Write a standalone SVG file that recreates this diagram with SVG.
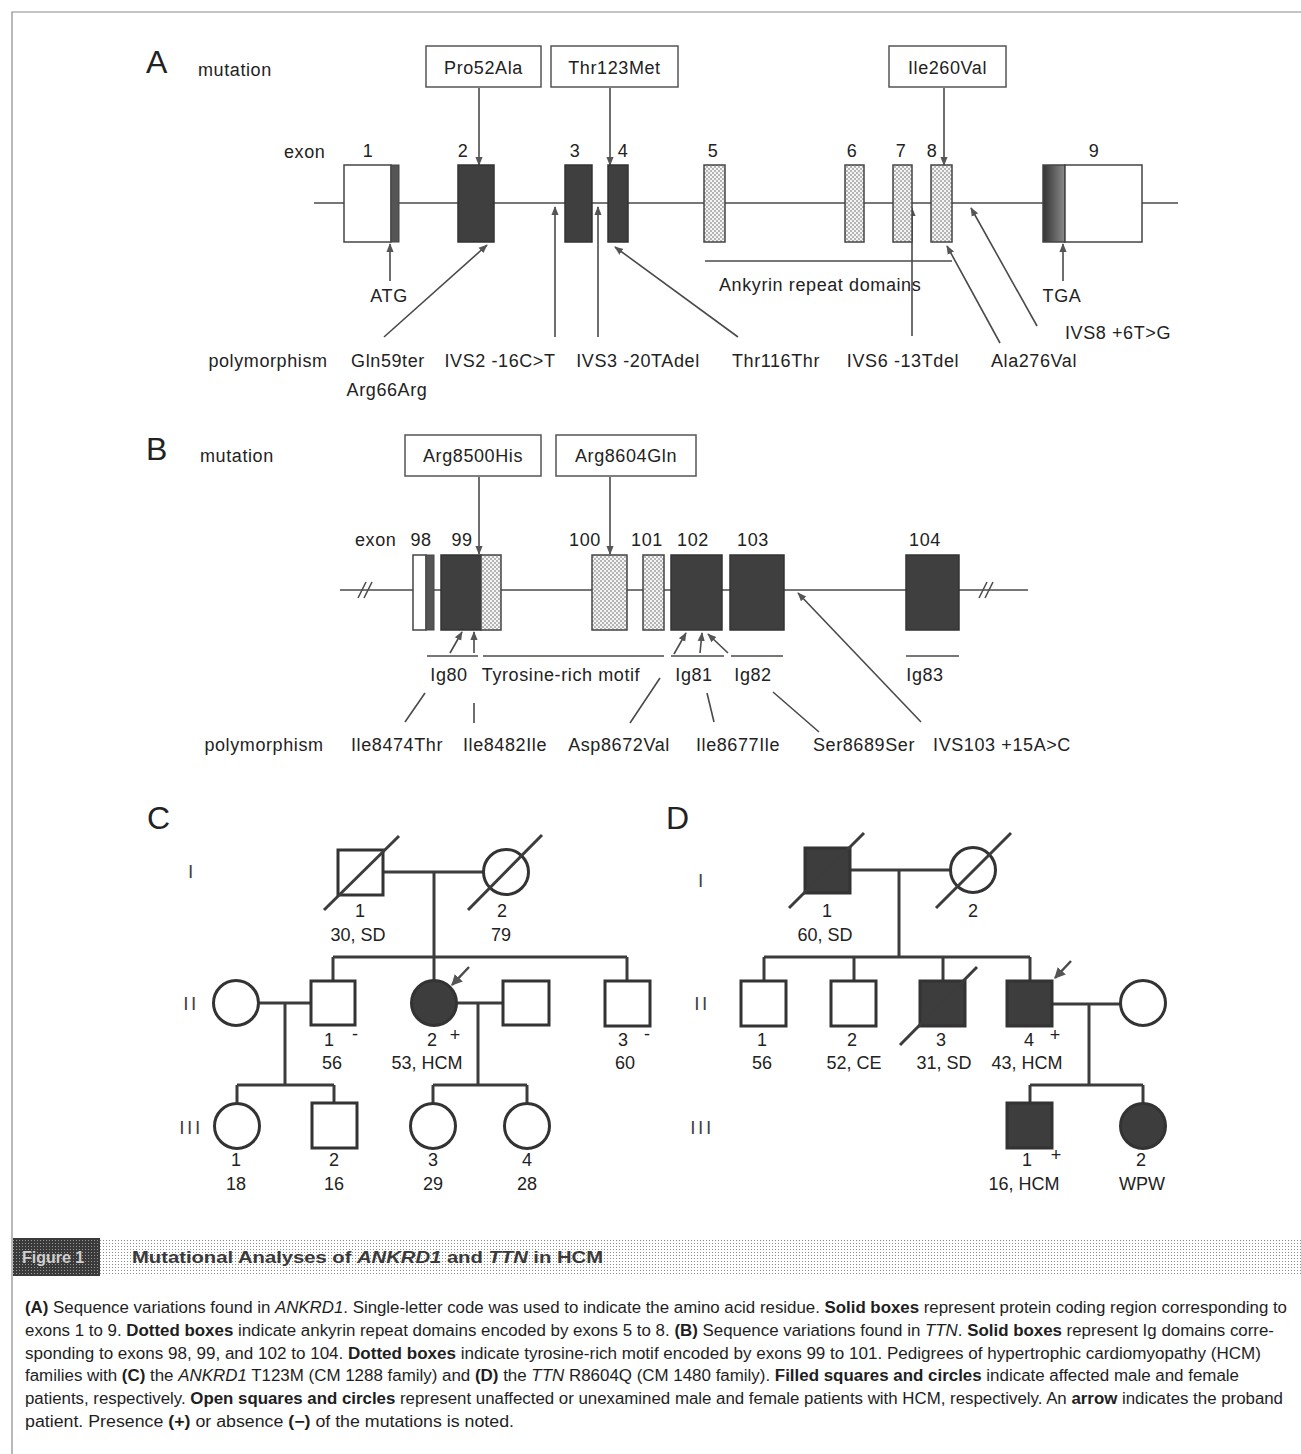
<svg xmlns="http://www.w3.org/2000/svg" width="1301" height="1454" viewBox="0 0 1301 1454">
<defs>
<style>
text { font-family: "Liberation Sans", Arial, sans-serif; fill: #222; }
.big { font-size: 32px; }
.lb { font-size: 18px; letter-spacing: 0.6px; }
.c { text-anchor: middle; }
.pl { font-size: 18px; text-anchor: middle; }
.gen { font-size: 19px; text-anchor: middle; letter-spacing: 2.5px; fill: #444; }
.cap { font-family: "Liberation Sans Narrow", "Liberation Sans", Arial, sans-serif; font-size: 16px; fill: #1e1e1e; }
.b { font-weight: bold; }
.i { font-style: italic; }
.fig { font-size: 16px; font-weight: bold; fill: #cfcfcf; }
.ttl { font-size: 17px; font-weight: bold; fill: #3a3a3a; }
.ln { stroke: #4a4a4a; stroke-width: 1.6; fill: none; }
.arr { stroke: #4a4a4a; stroke-width: 1.6; fill: none; marker-end: url(#ah); }
.mbox { fill: #fff; stroke: #555; stroke-width: 1.5; }
.wht { fill: #fff; stroke: #444; stroke-width: 1.5; }
.drk { fill: #3f3f3f; stroke: #333; stroke-width: 1.5; }
.dot { fill: url(#dots); stroke: #444; stroke-width: 1.5; }
.ped { stroke: #3c3c3c; stroke-width: 3; fill: none; }
.po { fill: #fff; stroke: #333; stroke-width: 3; }
.pf { fill: #3d3d3d; stroke: #333; stroke-width: 3; }
.sl { stroke: #3c3c3c; stroke-width: 3; fill: none; }
.pa { stroke: #4a4a4a; stroke-width: 2.5; fill: none; marker-end: url(#ahp); }
.frame { stroke: #8a8a8a; stroke-width: 1.2; fill: none; }
</style>
<pattern id="dots" width="4" height="4" patternUnits="userSpaceOnUse">
<rect width="4" height="4" fill="#f4f4f4"/>
<circle cx="1" cy="1" r="0.8" fill="#666"/>
<circle cx="3" cy="3" r="0.8" fill="#666"/>
</pattern>
<pattern id="ldots" width="3" height="3" patternUnits="userSpaceOnUse">
<rect width="3" height="3" fill="#fff"/>
<rect x="1" y="1" width="1" height="1" fill="#8c8c8c"/>
</pattern>
<pattern id="ddots" width="3" height="3" patternUnits="userSpaceOnUse">
<rect width="3" height="3" fill="#3a3a3a"/>
<rect x="1" y="1" width="1" height="1" fill="#999"/>
</pattern>
<linearGradient id="g9" x1="0" x2="1" y1="0" y2="0">
<stop offset="0" stop-color="#333"/>
<stop offset="1" stop-color="#8a8a8a"/>
</linearGradient>
<marker id="ah" viewBox="0 0 10 10" refX="9" refY="5" markerWidth="9" markerHeight="9" markerUnits="userSpaceOnUse" orient="auto">
<path d="M0,1 L10,5 L0,9 Z" fill="#555"/>
</marker>
<marker id="ahp" viewBox="0 0 10 10" refX="9" refY="5" markerWidth="11" markerHeight="11" markerUnits="userSpaceOnUse" orient="auto">
<path d="M0,0 L10,5 L0,10 Z" fill="#555"/>
</marker>
</defs>

<rect width="1301" height="1454" fill="#fff"/>
<path class="frame" d="M12,1454 V12 H1301"/>

<!-- ================= PANEL A ================= -->
<g id="panelA-labels">
<text x="146" y="73" class="big">A</text>
<text x="198" y="76" class="lb">mutation</text>
<text x="284" y="158" class="lb">exon</text>
<text x="268" y="367" class="lb c">polymorphism</text>
</g>

<g id="connectorsA">
<line class="ln" x1="314" y1="203" x2="1178" y2="203"/>
<line class="arr" x1="479" y1="88" x2="479" y2="165"/>
<line class="arr" x1="610" y1="88" x2="610" y2="165"/>
<line class="arr" x1="944" y1="88" x2="944" y2="165"/>
<line class="arr" x1="390" y1="281" x2="390" y2="244"/>
<line class="arr" x1="384" y1="337" x2="487" y2="245"/>
<line class="arr" x1="555" y1="337" x2="555" y2="207"/>
<line class="arr" x1="598" y1="337" x2="598" y2="207"/>
<line class="arr" x1="738" y1="337" x2="615" y2="247"/>
<line class="arr" x1="912" y1="336" x2="912" y2="208"/>
<line class="arr" x1="1000" y1="343" x2="947" y2="246"/>
<line class="arr" x1="1037" y1="326" x2="971" y2="208"/>
<line class="arr" x1="1063" y1="281" x2="1063" y2="244"/>
<line class="ln" x1="705" y1="261" x2="952" y2="261"/>
</g>

<g id="mutA1"><rect class="mbox" x="426" y="46" width="115" height="41"/><text x="483.5" y="74" class="lb c">Pro52Ala</text></g>
<g id="mutA2"><rect class="mbox" x="551" y="46" width="127" height="41"/><text x="614.5" y="74" class="lb c">Thr123Met</text></g>
<g id="mutA3"><rect class="mbox" x="889" y="46" width="117" height="41"/><text x="947.5" y="74" class="lb c">Ile260Val</text></g>

<g id="exonA1"><rect class="wht" x="344" y="165" width="47" height="77"/><rect x="391" y="165" width="8" height="77" fill="#555" stroke="#444" stroke-width="1"/><text x="368" y="157" class="lb c">1</text></g>
<g id="exonA2"><rect class="drk" x="458" y="165" width="36" height="77"/><text x="463" y="157" class="lb c">2</text></g>
<g id="exonA3"><rect class="drk" x="565" y="165" width="27" height="77"/><text x="575" y="157" class="lb c">3</text></g>
<g id="exonA4"><rect class="drk" x="608" y="165" width="20" height="77"/><text x="623" y="157" class="lb c">4</text></g>
<g id="exonA5"><rect class="dot" x="704" y="165" width="21" height="77"/><text x="713" y="157" class="lb c">5</text></g>
<g id="exonA6"><rect class="dot" x="845" y="165" width="19" height="77"/><text x="852" y="157" class="lb c">6</text></g>
<g id="exonA7"><rect class="dot" x="893" y="165" width="19" height="77"/><text x="901" y="157" class="lb c">7</text></g>
<g id="exonA8"><rect class="dot" x="931" y="165" width="21" height="77"/><text x="932" y="157" class="lb c">8</text></g>
<g id="exonA9"><rect x="1043" y="165" width="22" height="77" fill="url(#g9)" stroke="#444" stroke-width="1.5"/><rect class="wht" x="1065" y="165" width="77" height="77"/><text x="1094" y="157" class="lb c">9</text></g>

<g id="labelsA">
<text x="389" y="302" class="lb c">ATG</text>
<text x="1062" y="302" class="lb c">TGA</text>
<text x="719" y="291" class="lb">Ankyrin repeat domains</text>
<text x="388" y="367" class="lb c">Gln59ter</text>
<text x="387" y="396" class="lb c">Arg66Arg</text>
<text x="500" y="367" class="lb c">IVS2 -16C&gt;T</text>
<text x="638" y="367" class="lb c">IVS3 -20TAdel</text>
<text x="776" y="367" class="lb c">Thr116Thr</text>
<text x="903" y="367" class="lb c">IVS6 -13Tdel</text>
<text x="1034" y="367" class="lb c">Ala276Val</text>
<text x="1118" y="339" class="lb c">IVS8 +6T&gt;G</text>
</g>

<!-- ================= PANEL B ================= -->
<g id="panelB-labels">
<text x="146" y="460" class="big">B</text>
<text x="200" y="462" class="lb">mutation</text>
<text x="355" y="546" class="lb">exon</text>
<text x="264" y="751" class="lb c">polymorphism</text>
</g>

<g id="connectorsB">
<line class="ln" x1="340" y1="590" x2="1028" y2="590"/>
<line class="ln" x1="358" y1="598" x2="366" y2="582"/>
<line class="ln" x1="364" y1="598" x2="372" y2="582"/>
<line class="ln" x1="979" y1="598" x2="987" y2="582"/>
<line class="ln" x1="985" y1="598" x2="993" y2="582"/>
<line class="arr" x1="479" y1="477" x2="479" y2="554"/>
<line class="arr" x1="610" y1="477" x2="610" y2="554"/>
<line class="arr" x1="450" y1="653" x2="462" y2="632"/>
<line class="arr" x1="474" y1="653" x2="474" y2="632"/>
<line class="arr" x1="674" y1="654" x2="686" y2="633"/>
<line class="arr" x1="700" y1="653" x2="702" y2="633"/>
<line class="arr" x1="728" y1="653" x2="708" y2="634"/>
<line class="ln" x1="405" y1="722" x2="425" y2="693"/>
<line class="ln" x1="474" y1="703" x2="474" y2="723"/>
<line class="ln" x1="630" y1="723" x2="660" y2="678"/>
<line class="ln" x1="714" y1="722" x2="707" y2="693"/>
<line class="ln" x1="819" y1="732" x2="773" y2="692"/>
<line class="arr" x1="921" y1="722" x2="798" y2="593"/>
<line class="ln" x1="427" y1="656" x2="478" y2="656"/>
<line class="ln" x1="483" y1="656" x2="664" y2="656"/>
<line class="ln" x1="671" y1="656" x2="724" y2="656"/>
<line class="ln" x1="731" y1="656" x2="783" y2="656"/>
<line class="ln" x1="906" y1="656" x2="959" y2="656"/>
</g>

<g id="mutB1"><rect class="mbox" x="405" y="435" width="136" height="41"/><text x="473" y="462" class="lb c">Arg8500His</text></g>
<g id="mutB2"><rect class="mbox" x="556" y="435" width="140" height="41"/><text x="626" y="462" class="lb c">Arg8604Gln</text></g>

<g id="exonB98"><rect class="wht" x="413" y="555" width="13" height="75"/><rect x="426" y="555" width="8" height="75" fill="#555" stroke="#444" stroke-width="1"/><text x="421" y="546" class="lb c">98</text></g>
<g id="exonB99"><rect class="drk" x="441" y="555" width="40" height="75"/><rect class="dot" x="481" y="555" width="20" height="75"/><text x="462" y="546" class="lb c">99</text></g>
<g id="exonB100"><rect class="dot" x="592" y="555" width="35" height="75"/><text x="585" y="546" class="lb c">100</text></g>
<g id="exonB101"><rect class="dot" x="643" y="555" width="21" height="75"/><text x="647" y="546" class="lb c">101</text></g>
<g id="exonB102"><rect class="drk" x="671" y="555" width="51" height="75"/><text x="693" y="546" class="lb c">102</text></g>
<g id="exonB103"><rect class="drk" x="730" y="555" width="54" height="75"/><text x="753" y="546" class="lb c">103</text></g>
<g id="exonB104"><rect class="drk" x="906" y="555" width="53" height="75"/><text x="925" y="546" class="lb c">104</text></g>

<g id="labelsB">
<text x="449" y="681" class="lb c">Ig80</text>
<text x="561" y="681" class="lb c">Tyrosine-rich motif</text>
<text x="694" y="681" class="lb c">Ig81</text>
<text x="753" y="681" class="lb c">Ig82</text>
<text x="925" y="681" class="lb c">Ig83</text>
<text x="397" y="751" class="lb c">Ile8474Thr</text>
<text x="505" y="751" class="lb c">Ile8482Ile</text>
<text x="619" y="751" class="lb c">Asp8672Val</text>
<text x="738" y="751" class="lb c">Ile8677Ile</text>
<text x="864" y="751" class="lb c">Ser8689Ser</text>
<text x="1002" y="751" class="lb c">IVS103 +15A&gt;C</text>
</g>

<!-- ================= PANEL C ================= -->
<g id="panelC-labels">
<text x="147" y="829" class="big">C</text>
<text x="192" y="878" class="gen">I</text>
<text x="191" y="1010" class="gen">II</text>
<text x="191" y="1134" class="gen">III</text>
</g>

<g id="connectorsC">
<line class="ped" x1="383" y1="872" x2="484" y2="872"/>
<line class="ped" x1="434" y1="872" x2="434" y2="957"/>
<line class="ped" x1="333" y1="957" x2="627" y2="957"/>
<line class="ped" x1="333" y1="957" x2="333" y2="981"/>
<line class="ped" x1="434" y1="957" x2="434" y2="981"/>
<line class="ped" x1="627" y1="957" x2="627" y2="981"/>
<line class="ped" x1="258" y1="1003" x2="311" y2="1003"/>
<line class="ped" x1="285" y1="1003" x2="285" y2="1085"/>
<line class="ped" x1="237" y1="1085" x2="334" y2="1085"/>
<line class="ped" x1="237" y1="1085" x2="237" y2="1104"/>
<line class="ped" x1="334" y1="1085" x2="334" y2="1103"/>
<line class="ped" x1="456" y1="1003" x2="503" y2="1003"/>
<line class="ped" x1="478" y1="1003" x2="478" y2="1085"/>
<line class="ped" x1="433" y1="1085" x2="527" y2="1085"/>
<line class="ped" x1="433" y1="1085" x2="433" y2="1104"/>
<line class="ped" x1="527" y1="1085" x2="527" y2="1104"/>
<line class="pa" x1="469" y1="967" x2="452" y2="985"/>
</g>

<g id="C-I1"><rect class="po" x="338" y="850" width="45" height="45"/><line class="sl" x1="324" y1="910" x2="399" y2="836"/><text x="360" y="917" class="pl">1</text><text x="358" y="941" class="pl">30, SD</text></g>
<g id="C-I2"><circle class="po" cx="506" cy="872" r="22.5"/><line class="sl" x1="468" y1="910" x2="542" y2="835"/><text x="502" y="917" class="pl">2</text><text x="501" y="941" class="pl">79</text></g>
<g id="C-II-spouse1"><circle class="po" cx="236" cy="1003" r="22.5"/></g>
<g id="C-II1"><rect class="po" x="311" y="981" width="44" height="44"/><text x="329" y="1046" class="pl">1</text><text x="355" y="1040" class="pl">-</text><text x="332" y="1069" class="pl">56</text></g>
<g id="C-II2"><circle class="pf" cx="434" cy="1003" r="22.5"/><text x="432" y="1046" class="pl">2</text><text x="455" y="1041" class="pl">+</text><text x="427" y="1069" class="pl">53, HCM</text></g>
<g id="C-II-spouse2"><rect class="po" x="503" y="981" width="46" height="44"/></g>
<g id="C-II3"><rect class="po" x="605" y="981" width="45" height="45"/><text x="623" y="1046" class="pl">3</text><text x="647" y="1040" class="pl">-</text><text x="625" y="1069" class="pl">60</text></g>
<g id="C-III1"><circle class="po" cx="237" cy="1126" r="22.5"/><text x="236" y="1166" class="pl">1</text><text x="236" y="1190" class="pl">18</text></g>
<g id="C-III2"><rect class="po" x="312" y="1103" width="45" height="45"/><text x="334" y="1166" class="pl">2</text><text x="334" y="1190" class="pl">16</text></g>
<g id="C-III3"><circle class="po" cx="433" cy="1126" r="22.5"/><text x="433" y="1166" class="pl">3</text><text x="433" y="1190" class="pl">29</text></g>
<g id="C-III4"><circle class="po" cx="527" cy="1126" r="22.5"/><text x="527" y="1166" class="pl">4</text><text x="527" y="1190" class="pl">28</text></g>

<!-- ================= PANEL D ================= -->
<g id="panelD-labels">
<text x="666" y="829" class="big">D</text>
<text x="702" y="887" class="gen">I</text>
<text x="702" y="1010" class="gen">II</text>
<text x="702" y="1134" class="gen">III</text>
</g>

<g id="connectorsD">
<line class="ped" x1="850" y1="870" x2="951" y2="870"/>
<line class="ped" x1="899" y1="870" x2="899" y2="957"/>
<line class="ped" x1="764" y1="957" x2="1030" y2="957"/>
<line class="ped" x1="764" y1="957" x2="764" y2="981"/>
<line class="ped" x1="854" y1="957" x2="854" y2="981"/>
<line class="ped" x1="943" y1="957" x2="943" y2="981"/>
<line class="ped" x1="1030" y1="957" x2="1030" y2="981"/>
<line class="ped" x1="1052" y1="1004" x2="1121" y2="1004"/>
<line class="ped" x1="1089" y1="1004" x2="1089" y2="1085"/>
<line class="ped" x1="1030" y1="1085" x2="1143" y2="1085"/>
<line class="ped" x1="1030" y1="1085" x2="1030" y2="1103"/>
<line class="ped" x1="1143" y1="1085" x2="1143" y2="1104"/>
<line class="pa" x1="1071" y1="961" x2="1055" y2="978"/>
</g>

<g id="D-I1"><rect class="pf" x="805" y="848" width="45" height="45"/><line class="sl" x1="789" y1="908" x2="864" y2="833"/><text x="827" y="917" class="pl">1</text><text x="825" y="941" class="pl">60, SD</text></g>
<g id="D-I2"><circle class="po" cx="973" cy="870" r="22.5"/><line class="sl" x1="936" y1="908" x2="1011" y2="833"/><text x="973" y="917" class="pl">2</text></g>
<g id="D-II1"><rect class="po" x="741" y="981" width="45" height="45"/><text x="762" y="1046" class="pl">1</text><text x="762" y="1069" class="pl">56</text></g>
<g id="D-II2"><rect class="po" x="831" y="981" width="45" height="45"/><text x="852" y="1046" class="pl">2</text><text x="854" y="1069" class="pl">52, CE</text></g>
<g id="D-II3"><rect class="pf" x="920" y="981" width="45" height="45"/><line class="sl" x1="900" y1="1045" x2="977" y2="967"/><text x="941" y="1046" class="pl">3</text><text x="944" y="1069" class="pl">31, SD</text></g>
<g id="D-II4"><rect class="pf" x="1007" y="981" width="45" height="45"/><text x="1029" y="1046" class="pl">4</text><text x="1055" y="1041" class="pl">+</text><text x="1027" y="1069" class="pl">43, HCM</text></g>
<g id="D-II-spouse"><circle class="po" cx="1143" cy="1003" r="22.5"/></g>
<g id="D-III1"><rect class="pf" x="1007" y="1103" width="45" height="45"/><text x="1027" y="1166" class="pl">1</text><text x="1056" y="1161" class="pl">+</text><text x="1024" y="1190" class="pl">16, HCM</text></g>
<g id="D-III2"><circle class="pf" cx="1143" cy="1126" r="22.5"/><text x="1141" y="1166" class="pl">2</text><text x="1142" y="1190" class="pl">WPW</text></g>

<!-- ================= CAPTION ================= -->
<g id="caption-bar">
<rect x="100" y="1238" width="1201" height="38" fill="url(#ldots)"/>
<rect x="13" y="1238" width="87" height="38" fill="url(#ddots)"/>
<text x="22" y="1263" class="fig">Figure 1</text>
<text x="132" y="1263" class="ttl" textLength="471" lengthAdjust="spacingAndGlyphs">Mutational Analyses of <tspan class="i">ANKRD1</tspan> and <tspan class="i">TTN</tspan> in HCM</text>
</g>

<g id="caption-text">
<text x="25" y="1313" class="cap" textLength="1262" lengthAdjust="spacingAndGlyphs"><tspan class="b">(A)</tspan> Sequence variations found in <tspan class="i">ANKRD1</tspan>. Single-letter code was used to indicate the amino acid residue. <tspan class="b">Solid boxes</tspan> represent protein coding region corresponding to</text>
<text x="25" y="1336" class="cap" textLength="1249" lengthAdjust="spacingAndGlyphs">exons 1 to 9. <tspan class="b">Dotted boxes</tspan> indicate ankyrin repeat domains encoded by exons 5 to 8. <tspan class="b">(B)</tspan> Sequence variations found in <tspan class="i">TTN</tspan>. <tspan class="b">Solid boxes</tspan> represent Ig domains corre-</text>
<text x="25" y="1359" class="cap" textLength="1236" lengthAdjust="spacingAndGlyphs">sponding to exons 98, 99, and 102 to 104. <tspan class="b">Dotted boxes</tspan> indicate tyrosine-rich motif encoded by exons 99 to 101. Pedigrees of hypertrophic cardiomyopathy (HCM)</text>
<text x="25" y="1381" class="cap" textLength="1214" lengthAdjust="spacingAndGlyphs">families with <tspan class="b">(C)</tspan> the <tspan class="i">ANKRD1</tspan> T123M (CM 1288 family) and <tspan class="b">(D)</tspan> the <tspan class="i">TTN</tspan> R8604Q (CM 1480 family). <tspan class="b">Filled squares and circles</tspan> indicate affected male and female</text>
<text x="25" y="1404" class="cap" textLength="1258" lengthAdjust="spacingAndGlyphs">patients, respectively. <tspan class="b">Open squares and circles</tspan> represent unaffected or unexamined male and female patients with HCM, respectively. An <tspan class="b">arrow</tspan> indicates the proband</text>
<text x="25" y="1427" class="cap" textLength="489" lengthAdjust="spacingAndGlyphs">patient. Presence <tspan class="b">(+)</tspan> or absence <tspan class="b">(−)</tspan> of the mutations is noted.</text>
</g>
</svg>
